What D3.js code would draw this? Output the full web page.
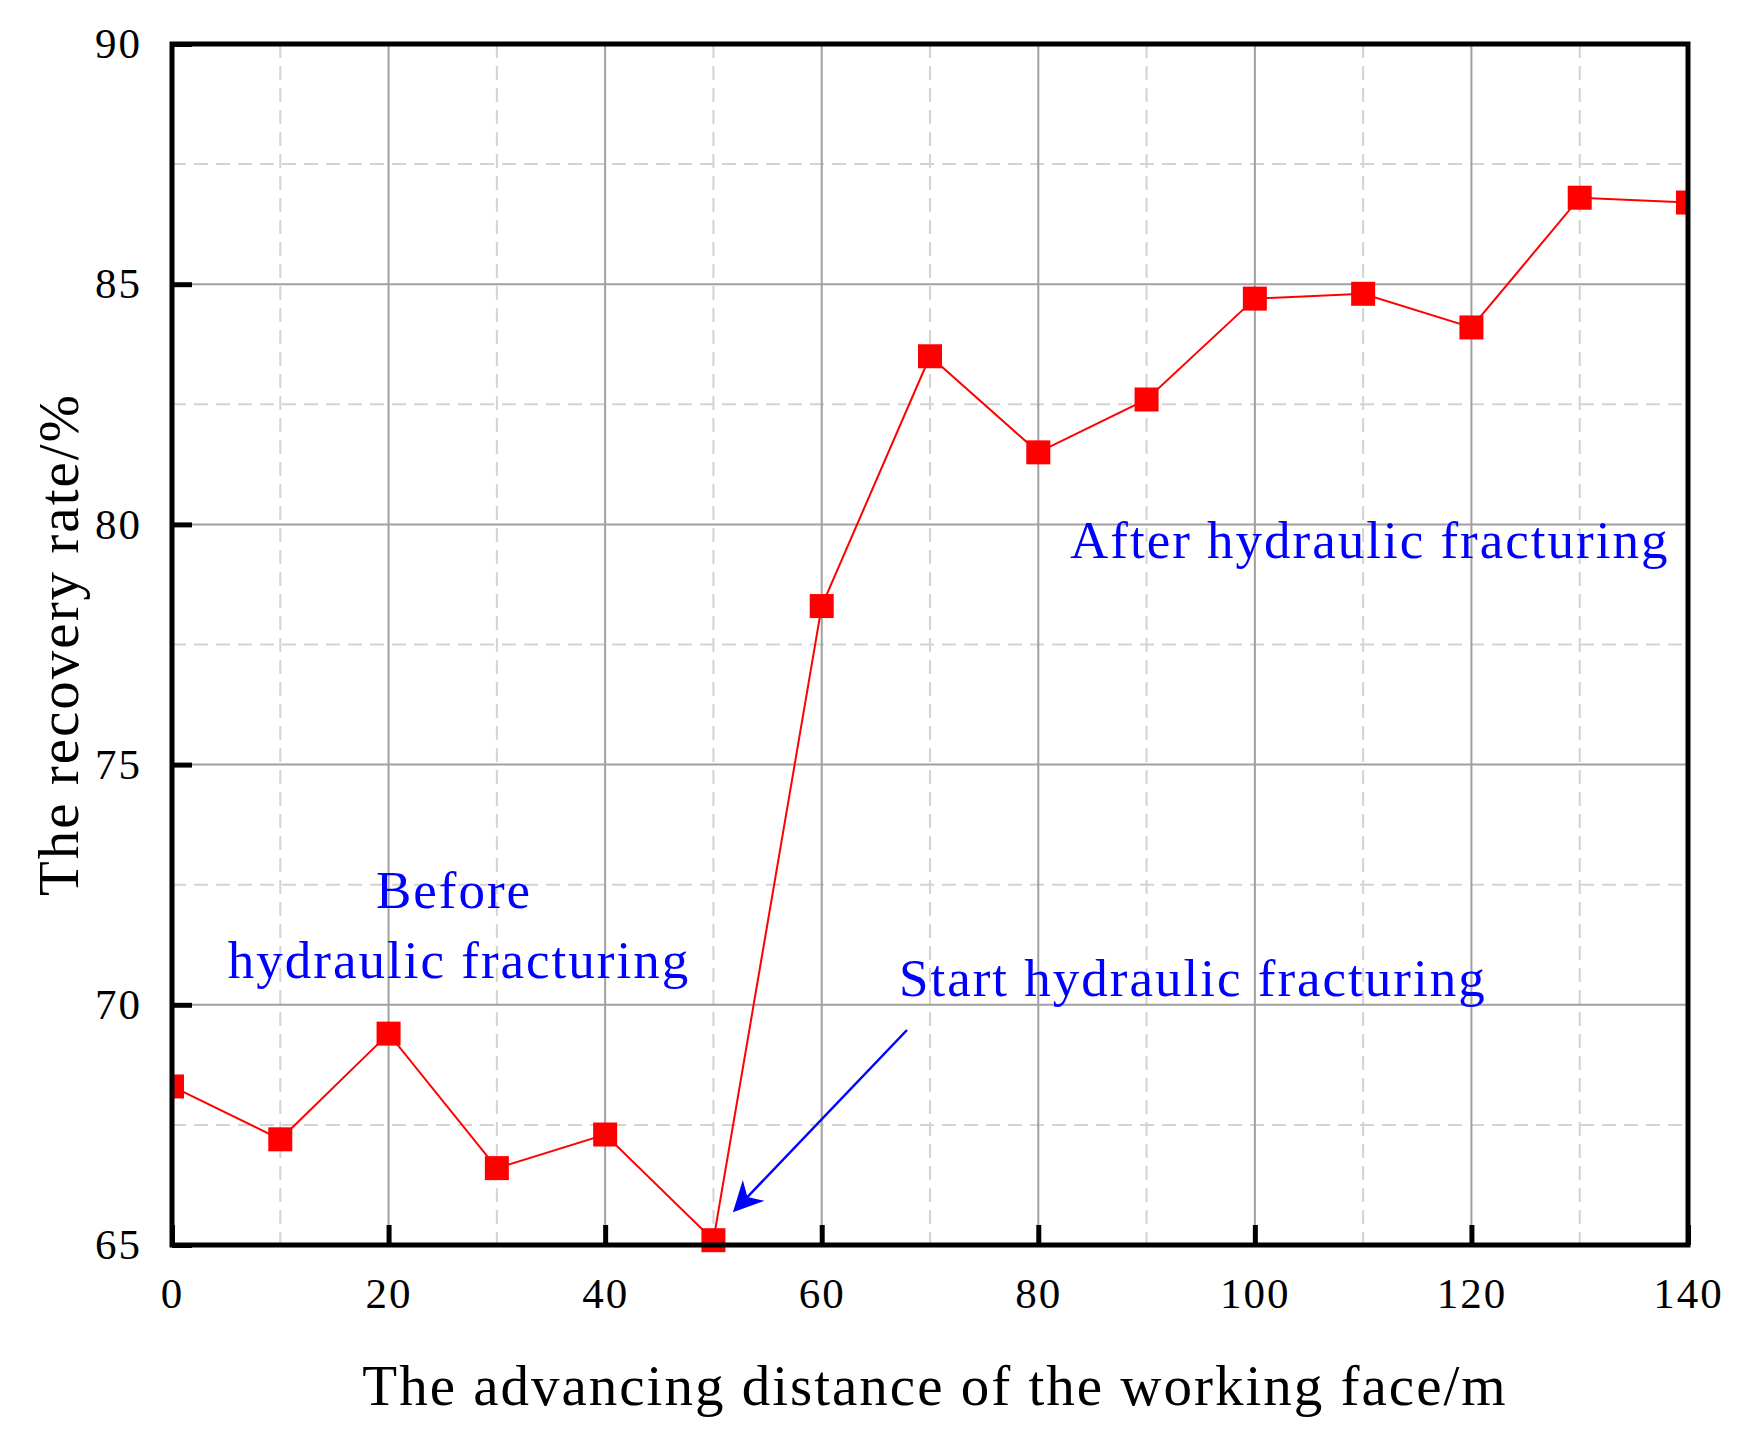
<!DOCTYPE html>
<html><head><meta charset="utf-8">
<script src="https://cdn.jsdelivr.net/npm/d3@7"></script>
<style>body{margin:0;background:#fff}</style>
</head><body>
<script>
// values
var distance = [0,10,20,30,40,50,60,70,80,90,100,110,120,130,140];
var recovery = [68.3,67.2,69.4,66.6,67.3,65.1,78.3,83.5,81.5,82.6,84.7,84.8,84.1,86.8,86.7];
var xTicks = [0,20,40,60,80,100,120,140];
var yTicks = [65,70,75,80,85,90];

var W = 1742, H = 1437;
var pLeft = 172, pRight = 1688, pTop = 44, pBottom = 1245;
var font = "'Liberation Serif', 'Times New Roman', serif";

var svg = d3.select("body").append("svg").attr("width", W).attr("height", H);
var x = d3.scaleLinear().domain([0,140]).range([pLeft,pRight]);
var y = d3.scaleLinear().domain([65,90]).range([pBottom,pTop]);

//minor dashed grid
var minorX = d3.range(10,140,20), minorY = d3.range(67.5,90,5);
svg.selectAll(".mx").data(minorX).enter().append("line")
	.attr("x1", d => x(d)).attr("x2", d => x(d)).attr("y1", pTop).attr("y2", pBottom)
	.style("stroke", "#d3d3d3").style("stroke-width", 2).style("stroke-dasharray", "14,8");
svg.selectAll(".my").data(minorY).enter().append("line")
	.attr("y1", d => y(d)).attr("y2", d => y(d)).attr("x1", pLeft).attr("x2", pRight)
	.style("stroke", "#d3d3d3").style("stroke-width", 2).style("stroke-dasharray", "14,8");
//major grid
svg.selectAll(".gx").data(xTicks).enter().append("line")
	.attr("x1", d => x(d)).attr("x2", d => x(d)).attr("y1", pTop).attr("y2", pBottom)
	.style("stroke", "#a0a0a0").style("stroke-width", 2);
svg.selectAll(".gy").data(yTicks).enter().append("line")
	.attr("y1", d => y(d)).attr("y2", d => y(d)).attr("x1", pLeft).attr("x2", pRight)
	.style("stroke", "#a0a0a0").style("stroke-width", 2);

//axes with inward ticks
var xa = svg.append("g").attr("transform", "translate(0," + pBottom + ")")
	.call(d3.axisBottom(x).tickValues(xTicks).tickSize(-20).tickPadding(32));
var ya = svg.append("g").attr("transform", "translate(" + pLeft + ",0)")
	.call(d3.axisLeft(y).tickValues(yTicks).tickSize(-20).tickPadding(30));
[xa, ya].forEach(function(a){
	a.select(".domain").remove();
	a.selectAll("line").style("stroke", "#000").style("stroke-width", 5);
	a.selectAll("text").style("font-family", font).style("font-size", "43px")
		.style("letter-spacing", "2px").style("fill", "#000");
});

//data
svg.append("clipPath").attr("id", "c").append("rect")
	.attr("x", pLeft).attr("y", pTop).attr("width", pRight-pLeft).attr("height", pBottom-pTop+14);
var g = svg.append("g").attr("clip-path", "url(#c)");
g.append("path").datum(distance)
	.attr("d", d3.line().x(d => x(d)).y((d,i) => y(recovery[i])))
	.style("fill", "none").style("stroke", "red").style("stroke-width", 2);
g.selectAll("rect").data(distance).enter().append("rect")
	.attr("x", d => x(d) - 12).attr("y", (d,i) => y(recovery[i]) - 12)
	.attr("width", 24).attr("height", 24).style("fill", "red");

//frame
svg.append("rect").attr("x", pLeft).attr("y", pTop).attr("width", pRight-pLeft).attr("height", pBottom-pTop)
	.style("fill", "none").style("stroke", "#000").style("stroke-width", 5);

//axis titles
svg.append("text").attr("x", (pLeft+pRight)/2 + 5).attr("y", 1405).attr("text-anchor", "middle")
	.style("font-family", font).style("font-size", "57px").style("letter-spacing", "2px")
	.text("The advancing distance of the working face/m");
svg.append("text").attr("transform", "translate(78," + (pTop+pBottom)/2 + ") rotate(-90)").attr("text-anchor", "middle")
	.style("font-family", font).style("font-size", "57px").style("letter-spacing", "2px")
	.text("The recovery rate/%");

//annotations
function note(t, px, py, anchor){
	svg.append("text").attr("x", px).attr("y", py).attr("text-anchor", anchor)
		.style("font-family", font).style("font-size", "53px").style("letter-spacing", "2px")
		.style("fill", "blue").text(t);
}
note("After hydraulic fracturing", 1070, 558, "start");
note("Before", 454, 908, "middle");
note("hydraulic fracturing", 459, 978, "middle");
note("Start hydraulic fracturing", 899, 996, "start");

svg.append("defs").append("marker").attr("id", "ah").attr("viewBox", "0 0 10 10")
	.attr("refX", 9).attr("refY", 5).attr("markerWidth", 44).attr("markerHeight", 30)
	.attr("markerUnits", "userSpaceOnUse").attr("orient", "auto")
	.append("path").attr("d", "M0,0 L10,5 L0,10 L3,5 Z").style("fill", "blue");
svg.append("line").attr("x1", 907).attr("y1", 1030).attr("x2", 735).attr("y2", 1210)
	.style("stroke", "blue").style("stroke-width", 2.5).attr("marker-end", "url(#ah)");
</script>
</body></html>
